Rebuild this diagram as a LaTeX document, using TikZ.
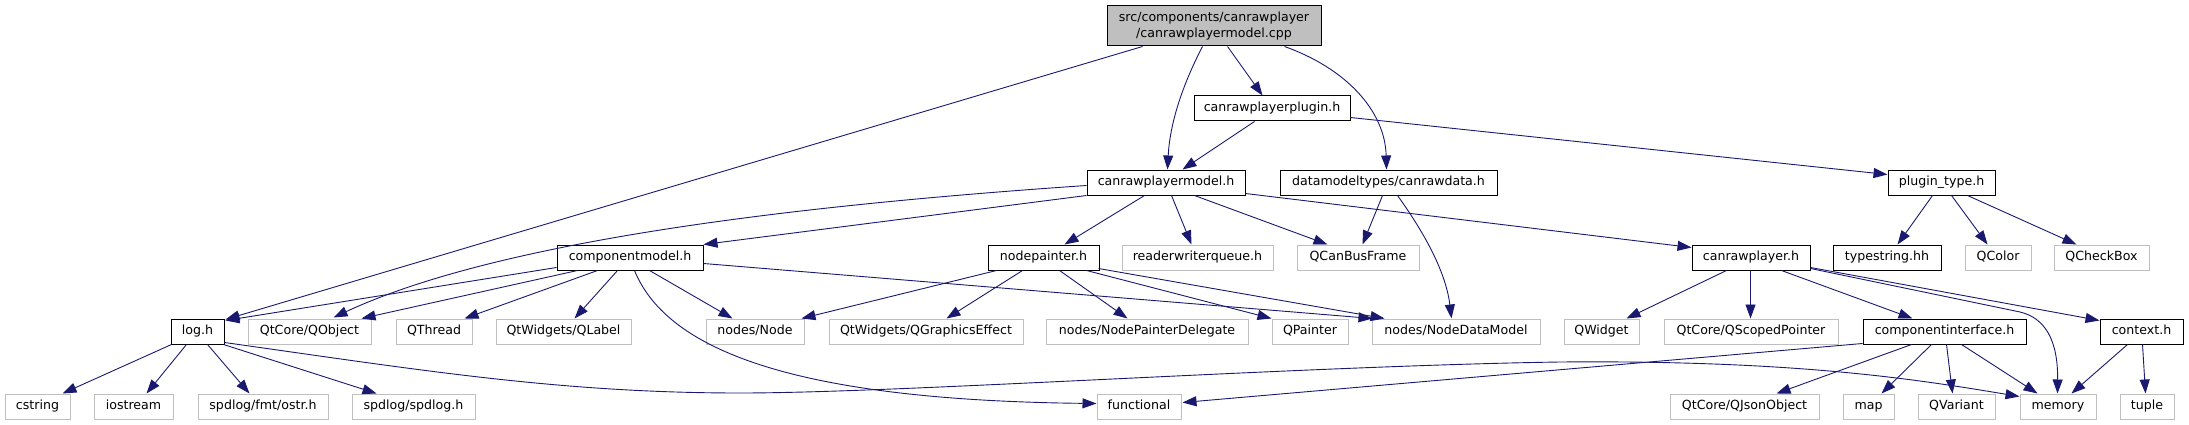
\documentclass[tikz,border=0pt]{standalone}
\usepackage{fontspec}
\setmainfont{DejaVu Sans}
\usetikzlibrary{arrows.meta,calc}
\definecolor{edgecol}{HTML}{191970}
\definecolor{lgray}{HTML}{BFBFBF}
\newcommand\depline[4]{\draw[dep] ($(#1.south west)+(#2,0)$) -- ($(#3.north west)+(#4,0)$);}
\begin{document}
\begin{tikzpicture}[x=1pt,y=-1pt,
  box/.style={rectangle, minimum height=25pt, inner sep=0pt, font=\fontsize{12.6}{15.3}\selectfont, text height=9pt, text depth=3pt},
  docbox/.style={box, draw=black, line width=1pt, fill=white},
  extbox/.style={box, draw=lgray, line width=1pt, fill=white},
  mainbox/.style={rectangle, draw=black, line width=1pt, fill=lgray, inner sep=0pt, align=center, font=\fontsize{12.6}{15.3}\selectfont},
  dep/.style={draw=edgecol, line width=0.9pt, -{Triangle[length=14pt,width=10pt]}}]
\useasboundingbox (0,0) rectangle (2189,425);
% row 0
\node[mainbox, minimum width=214pt, minimum height=40pt] (main) at (1214,26) {src/components/canrawplayer\\/canrawplayermodel.cpp};
% row 1
\node[docbox, minimum width=156pt] (plugin) at (1272,108.5) {canrawplayerplugin.h};
% row 2
\node[docbox, minimum width=158pt] (crpm) at (1166,182.5) {canrawplayermodel.h};
\node[docbox, minimum width=217pt] (crd) at (1388.5,182.5) {datamodeltypes/canrawdata.h};
\node[docbox, minimum width=107pt] (pt) at (1941.5,182.5) {plugin\_type.h};
% row 3
\node[docbox, minimum width=146pt] (cm) at (630,257.5) {componentmodel.h};
\node[docbox, minimum width=111pt] (np) at (1043.5,257.5) {nodepainter.h};
\node[extbox, minimum width=151pt] (rwq) at (1197.5,257.5) {readerwriterqueue.h};
\node[extbox, minimum width=122pt] (qcbf) at (1358,257.5) {QCanBusFrame};
\node[docbox, minimum width=118pt] (crp) at (1751,257.5) {canrawplayer.h};
\node[docbox, minimum width=108pt] (ts) at (1887,257.5) {typestring.hh};
\node[extbox, minimum width=66pt] (qcolor) at (1998,257.5) {QColor};
\node[extbox, minimum width=95pt] (qcb) at (2101.5,257.5) {QCheckBox};
% row 4
\node[docbox, minimum width=53pt] (log) at (197.5,331.5) {log.h};
\node[extbox, minimum width=123pt] (qobj) at (309.5,331.5) {QtCore/QObject};
\node[extbox, minimum width=76pt] (qthr) at (434,331.5) {QThread};
\node[extbox, minimum width=135pt] (qlab) at (563.5,331.5) {QtWidgets/QLabel};
\node[extbox, minimum width=98pt] (nnode) at (755,331.5) {nodes/Node};
\node[extbox, minimum width=194pt] (qge) at (926,331.5) {QtWidgets/QGraphicsEffect};
\node[extbox, minimum width=202pt] (npd) at (1147,331.5) {nodes/NodePainterDelegate};
\node[extbox, minimum width=76pt] (qp) at (1310,331.5) {QPainter};
\node[extbox, minimum width=168pt] (ndm) at (1456,331.5) {nodes/NodeDataModel};
\node[extbox, minimum width=75pt] (qw) at (1601.5,331.5) {QWidget};
\node[extbox, minimum width=174pt] (qsp) at (1751,331.5) {QtCore/QScopedPointer};
\node[docbox, minimum width=163pt] (ci) at (1944.5,331.5) {componentinterface.h};
\node[docbox, minimum width=83pt] (ctx) at (2141.5,331.5) {context.h};
% row 5
\node[extbox, minimum width=65pt] (cstr) at (37.5,406.5) {cstring};
\node[extbox, minimum width=79pt] (ios) at (133.5,406.5) {iostream};
\node[extbox, minimum width=130pt] (ostr) at (263,406.5) {spdlog/fmt/ostr.h};
\node[extbox, minimum width=123pt] (spd) at (413.5,406.5) {spdlog/spdlog.h};
\node[extbox, minimum width=84pt] (func) at (1139,406.5) {functional};
\node[extbox, minimum width=149pt] (qjo) at (1744.5,406.5) {QtCore/QJsonObject};
\node[extbox, minimum width=51pt] (map) at (1868.5,406.5) {map};
\node[extbox, minimum width=77pt] (qvar) at (1956.5,406.5) {QVariant};
\node[extbox, minimum width=76pt] (mem) at (2058,406.5) {memory};
\node[extbox, minimum width=54pt] (tup) at (2147,406.5) {tuple};
% edges from main
\draw[dep] ($(main.south west)+(36,0)$) -- ($(log.north east)+(1,1)$);
\draw[dep] ($(main.south west)+(96,0)$) .. controls (1185,80) and (1170,120) .. ($(crpm.north west)+(81,0)$);
\depline{main}{121}{plugin}{69}
\draw[dep] ($(main.south west)+(178,0)$) .. controls (1345,68) and (1385,110) .. ($(crd.north west)+(107,0)$);
% plugin
\depline{plugin}{61}{crpm}{96}
\draw[dep] ($(plugin.south east)+(0,-4)$) -- ($(pt.north west)+(0,5)$);
% canrawplayermodel.h
\draw[dep] ($(crpm.south west)+(0,-10)$) .. controls (800,205) and (500,240) .. ($(qobj.north west)+(86,-1)$);
\draw[dep] (crpm.south west) -- (cm.north east);
\depline{crpm}{58}{np}{77}
\depline{crpm}{85}{rwq}{70}
\depline{crpm}{108}{qcbf}{31}
\draw[dep] ($(crpm.south east)+(0,-2)$) -- ($(crp.north west)+(0,3)$);
% canrawdata
\depline{crd}{103}{qcbf}{66}
\draw[dep] ($(crd.south west)+(118,0)$) .. controls (1415,220) and (1445,265) .. ($(ndm.north west)+(80,0)$);
% plugin_type
\depline{pt}{45}{ts}{65}
\depline{pt}{64}{qcolor}{23}
\depline{pt}{80}{qcb}{23}
% componentmodel
\draw[dep] ($(cm.south west)+(0,-3)$) -- ($(log.north east)+(1,2)$);
\depline{cm}{21}{qobj}{114}
\depline{cm}{41}{qthr}{69}
\depline{cm}{61}{qlab}{79}
\depline{cm}{93}{nnode}{27}
\draw[dep] ($(cm.south west)+(78,0)$) .. controls (665,345) and (780,400) .. ($(func.south west)+(0,-16)$);
\draw[dep] ($(cm.south east)+(0,-7)$) -- ($(ndm.north west)+(1,0)$);
% nodepainter
\depline{np}{9}{nnode}{96}
\depline{np}{35}{qge}{118}
\depline{np}{72}{npd}{82}
\depline{np}{99}{qp}{0}
\draw[dep] ($(np.south east)+(-1,-2)$) -- ($(ndm.north west)+(13,0)$);
% log.h
\depline{log}{1}{cstr}{58}
\depline{log}{16}{ios}{53}
\depline{log}{37}{ostr}{52}
\depline{log}{53}{spd}{25}
\draw[dep] ($(log.south east)+(0,-2)$) .. controls (420,370) and (560,393) .. (740,393)
  .. controls (900,393) and (1300,366) .. (1560,362)
  .. controls (1800,360) and (1920,380) .. ($(mem.north west)+(0,3)$);
% canrawplayer.h
\depline{crp}{35}{qw}{63}
\depline{crp}{59}{qsp}{87}
\depline{crp}{90}{ci}{50}
\draw[dep] ($(crp.south east)+(0,-2)$) -- (2020,312) .. controls (2045,318) and (2058,340) .. ($(mem.north west)+(38,0)$);
\draw[dep] ($(crp.south east)+(0,-3)$) -- ($(ctx.north west)+(0,2)$);
% componentinterface.h
\draw[dep] ($(ci.south west)+(0,-1)$) -- ($(func.south east)+(1,-17)$);
\depline{ci}{49}{qjo}{107}
\depline{ci}{69}{map}{39}
\depline{ci}{84}{qvar}{35}
\depline{ci}{99}{mem}{18}
% context.h
\depline{ctx}{28}{mem}{52}
\depline{ctx}{43}{tup}{26}
\end{tikzpicture}
\end{document}
